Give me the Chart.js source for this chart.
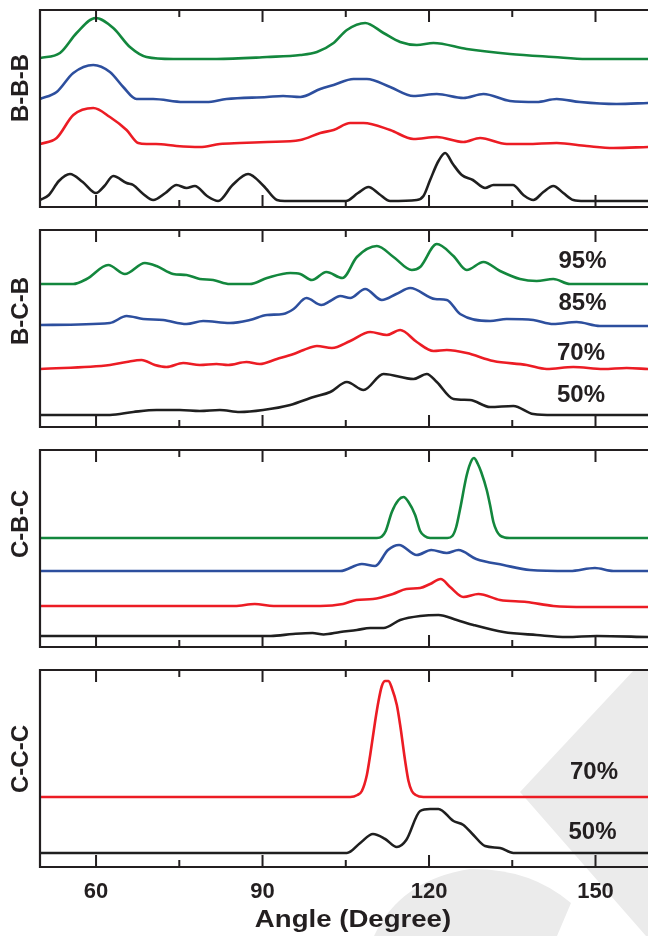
<!DOCTYPE html>
<html>
<head>
<meta charset="utf-8">
<script src="https://cdn.jsdelivr.net/npm/chart.js@4.4.0/dist/chart.umd.min.js"></script>
<style>
html,body{margin:0;padding:0;background:#fff;}
#wrap{position:relative;width:648px;height:936px;overflow:hidden;background:#fff;}
canvas{position:absolute;left:0;}
</style>
</head>
<body>
<div id="wrap">
<canvas id="c1" width="648" height="217" style="top:0px"></canvas>
<canvas id="c2" width="648" height="217" style="top:220px"></canvas>
<canvas id="c3" width="648" height="217" style="top:440px"></canvas>
<canvas id="c4" width="648" height="276" style="top:660px"></canvas>
</div>
<script>
// ---------------- DATA ----------------
const xMajorTicks = [60, 90, 120, 150];
const xMinorTicks = [75, 105, 135];
const xTitle = 'Angle (Degree)';
const panelNames = ['B-B-B', 'B-C-B', 'C-B-C', 'C-C-C'];
const pctLabelsBCB = ['95%', '85%', '70%', '50%'];
const pctLabelsCCC = ['70%', '50%'];

// B-B-B panel: [angle, intensity(offset included)]
const bbb50 = [[49.9,7],[51.5,12],[53.3,26],[55.3,33],[57.6,25],[60,14],[61.5,21],[63.1,31],[65.5,24],[66.7,22],[68.5,13],[70.3,7],[72.5,14],[74.5,22],[76.3,19],[77.8,21],[80,11],[82,6],[84.6,22],[87.4,33],[90.2,21],[92.6,7],[94,6],[105,6],[107.2,14],[109.1,20],[111,13],[113,6],[117.8,7],[119,11],[120.2,27],[121.7,46],[122.9,54],[124.3,43],[125.9,32],[127.9,27],[130.1,19],[131.6,22],[133.4,22],[135.1,22],[137,12],[138.8,7],[140.6,15],[142.4,21],[144.2,14],[146,7],[148,6],[159.5,6]];
const bbb70 = [[49.9,63],[52.9,69],[55.9,92],[59.5,99],[62.5,90],[65.5,77],[67.6,64],[69.1,63],[70.8,63],[74.5,61],[78.7,60],[82.3,63],[85.9,64],[90.8,65],[96.8,67],[100.4,74],[102.8,77],[105.8,84],[108.2,84],[113,77],[117.2,68],[121.4,70],[126.2,65],[129.2,69],[134,63],[137.6,63],[143,64],[148.4,61],[153.2,59],[159.5,60]];
const bbb85 = [[49.9,108],[52.9,115],[55.9,134],[59.5,142],[62.5,135],[64.9,120],[67.3,108],[70.3,108],[75.7,105],[79.9,105],[83.5,108],[90.8,110],[93.7,111],[96.8,110],[100.4,118],[102.8,122],[106.4,128],[108.8,128],[113,120],[117.2,111],[121.4,113],[126.2,109],[129.8,113],[134.6,106],[139.4,105],[143,108],[147.2,105],[153.8,103],[159.5,104]];
const bbb95 = [[49.9,149],[53.5,154],[56.5,174],[59.9,189],[63.1,179],[66.1,160],[69.1,150],[73.9,148],[81.7,148],[90.8,150],[96.8,152],[99.8,155],[102.8,164],[105.2,177],[108.5,184],[111.8,174],[114.8,165],[117.8,162],[120.8,164],[126.8,158],[134.6,153],[142.4,150],[148.4,148],[154.4,148],[159.5,148]];

// B-C-B panel
const bcb50 = [[49.9,12],[62.5,12],[66.7,15],[70.9,17],[75.1,17],[78.7,16],[82.3,17],[85.9,15],[90.1,17],[95,22],[99.2,30],[102.2,35],[105.2,45],[108.2,37],[111.8,53],[117.2,48],[119.6,53],[121.4,45],[124.4,28],[127.4,27],[131,20],[135.2,21],[138.8,13],[142.4,12],[159.5,12]];
const bcb70 = [[49.9,58],[62.5,62],[65.5,65],[68.2,67],[70.6,62],[72.7,60],[75.7,64],[78.7,62],[81.7,63],[83.8,62],[87.1,65],[89.5,63],[92.6,68],[95.6,73],[97.4,77],[99.8,81],[102.5,79],[105.8,86],[109.4,95],[112.4,92],[114.8,97],[117.8,85],[120.8,76],[123.2,77],[126.8,74],[131.6,66],[137.6,62],[141.2,58],[146,60],[151.4,58],[155.6,59],[159.5,58]];
const bcb85 = [[49.9,102],[62.5,104],[65.5,111],[68.5,108],[72.1,107],[76.3,103],[79.3,106],[84.1,104],[87.7,107],[90.8,112],[93.7,113],[95.6,118],[97.9,129],[100.6,122],[102.2,126],[104,131],[105.8,129],[108.5,138],[111.5,127],[114.1,133],[116.6,139],[121.1,128],[123.2,127],[125.6,113],[131,106],[134,108],[138.8,107],[142.4,103],[146.6,105],[150.8,101],[159.5,101]];
const bcb95 = [[49.9,143],[55.9,143],[58.3,148],[62.2,162],[65.2,153],[68.8,164],[70.9,161],[73.9,153],[76.3,152],[78.7,148],[81.1,147],[84.1,143],[87.7,143],[90.8,149],[95,154],[96.8,153],[98.9,147],[101.5,155],[104.4,149],[107,170],[110.6,181],[113.6,170],[116.9,157],[118.4,160],[121.4,183],[124.4,171],[126.8,157],[129.8,165],[132.8,156],[136.4,148],[139.4,146],[142.4,148],[145.4,143],[159.5,143]];

// C-B-C panel
const cbc50 = [[49.9,11],[87,11],[91.5,11],[95.5,13],[99,14],[101,12.5],[104,15],[107,17],[109.4,19],[111.8,19],[114.8,27],[118.4,31],[121.7,32],[125,27],[128,22],[133.4,15],[139.4,12],[144.8,10],[150.2,11],[159.5,10]];
const cbc70 = [[49.9,41],[85,41],[88.6,43],[92,41],[100.4,41],[104.5,43],[106.9,47],[109.9,48],[113.5,53],[115.9,58],[118.4,59],[120.2,63],[122.1,68],[123.8,60],[126.2,50],[128.9,53],[132.8,47],[137.6,45],[142.4,41],[148.4,40],[159.5,40]];
const cbc85 = [[49.9,76],[104,76],[107.9,83],[110.3,81],[112.6,97],[114.6,102],[117.8,92],[120.4,97],[123.2,94],[125.3,97],[128.5,88],[133.4,82],[138.2,77],[145.4,76],[149.9,79],[153.2,76],[159.5,76]];
const cbc95 = [[49.9,109],[110.6,109],[111.5,110.5],[112.2,116],[113.3,135],[114.5,147],[115.4,150],[116.3,145],[117.5,132],[118.4,116],[119.2,111],[120.2,109],[123.3,109],[124.2,111],[124.9,120],[125.6,138],[126.8,172],[127.7,187],[128.1,189],[128.8,183],[129.4,175],[130.4,157],[131,142],[131.6,125],[132.2,116],[132.8,111.5],[133.6,109.5],[134.5,109],[159.5,109]];

// C-C-C panel
const ccc50 = [[49.9,14],[105.2,14],[107.6,24],[109.9,33],[112.1,28],[114.2,20],[115.9,27],[118.4,56],[120.2,58],[121.7,58],[124.4,46],[126.2,42],[128,32],[130.1,21],[132.8,19],[135.2,14],[159.5,14]];
const ccc70 = [[49.9,70],[105.8,70],[107.1,72],[107.9,76],[108.8,92],[109.4,112],[110.3,146],[110.9,166],[111.5,181],[112.1,186],[112.7,186],[113.3,179],[114.2,162],[114.8,142],[115.7,106],[116.3,86],[116.9,76],[117.6,72],[119,70],[159.5,70]];

// ---------------- STYLE ----------------
const X_MIN = 49.9, X_MAX = 159.46;
const FONT = "'Liberation Sans', Arial, Helvetica, sans-serif";
const INK = '#231f20';
const C_BLACK = '#1f1f1f', C_RED = '#ec1c24', C_BLUE = '#2d4f9e', C_GREEN = '#13873d';

function ds(arr, color) {
  return {
    data: arr.map(([x, y]) => ({x, y})),
    borderColor: color, borderWidth: 2.6, pointRadius: 0, fill: false,
    cubicInterpolationMode: 'monotone', borderCapStyle: 'round', borderJoinStyle: 'round'
  };
}

const framePlugin = {
  id: 'frame',
  beforeDraw(chart, args, o) {
    if (!o.watermark) return;
    const ctx = chart.ctx;
    ctx.save();
    ctx.fillStyle = '#ebebeb';
    ctx.beginPath();
    ctx.moveTo(520, 132); ctx.lineTo(634, 10); ctx.lineTo(648, 10); ctx.lineTo(648, 276); ctx.lineTo(646, 276);
    ctx.closePath(); ctx.fill();
    ctx.beginPath();
    ctx.moveTo(374, 276);
    ctx.quadraticCurveTo(400, 220, 470, 209);
    ctx.quadraticCurveTo(530, 208, 571, 243);
    ctx.lineTo(557, 276);
    ctx.closePath(); ctx.fill();
    ctx.restore();
  },
  afterDatasetsDraw(chart, args, o) {
    const {ctx, chartArea: a} = chart;
    const x = chart.scales.x;
    ctx.save();
    ctx.strokeStyle = INK;
    ctx.lineCap = 'butt';
    ctx.lineWidth = 2.2;
    ctx.beginPath();
    ctx.moveTo(a.right, a.top); ctx.lineTo(a.left, a.top); ctx.lineTo(a.left, a.bottom); ctx.lineTo(a.right, a.bottom);
    ctx.stroke();
    ctx.lineWidth = 2;
    ctx.beginPath();
    xMajorTicks.forEach(v => {
      const px = x.getPixelForValue(v);
      ctx.moveTo(px, a.top); ctx.lineTo(px, a.top + 12);
      ctx.moveTo(px, a.bottom); ctx.lineTo(px, a.bottom - 12);
    });
    xMinorTicks.forEach(v => {
      const px = x.getPixelForValue(v);
      ctx.moveTo(px, a.top); ctx.lineTo(px, a.top + 7);
      ctx.moveTo(px, a.bottom); ctx.lineTo(px, a.bottom - 7);
    });
    ctx.stroke();
    // panel name
    ctx.fillStyle = INK;
    ctx.font = 'bold 24px ' + FONT;
    ctx.textAlign = 'center'; ctx.textBaseline = 'middle';
    ctx.save();
    ctx.translate(21.5, o.nameY);
    ctx.rotate(-Math.PI / 2);
    ctx.fillText(o.name, 0, 0);
    ctx.restore();
    // percent labels
    (o.pcts || []).forEach(p => { ctx.fillText(p.t, p.x, p.y); });
    // axis title
    if (o.title) {
      ctx.save();
      ctx.translate(o.title.x, o.title.y);
      ctx.scale(1.15, 1);
      ctx.fillText(o.title.t, 0, 0);
      ctx.restore();
    }
    ctx.restore();
  }
};

function makeChart(id, series, isBottom, frameOpts) {
  const xScale = {
    type: 'linear', min: X_MIN, max: X_MAX, display: isBottom,
    grid: { display: false, drawTicks: false }, border: { display: false },
    afterBuildTicks: s => { s.ticks = xMajorTicks.map(v => ({ value: v })); },
    ticks: { font: { family: FONT, size: 22, weight: 'bold' }, color: INK, padding: 12, autoSkip: false, maxRotation: 0 }
  };
  if (isBottom) xScale.afterFit = s => { s.height = 69; };
  return new Chart(document.getElementById(id), {
    type: 'line',
    data: { datasets: series },
    options: {
      responsive: false, animation: false, events: [],
      layout: { padding: { left: 40, right: 0, top: 10, bottom: isBottom ? 0 : 10 } },
      plugins: { legend: { display: false }, tooltip: { enabled: false }, frame: frameOpts },
      scales: {
        x: xScale,
        y: { display: false, min: 0, max: 197 }
      }
    },
    plugins: [framePlugin]
  });
}

makeChart('c1', [ds(bbb50, C_BLACK), ds(bbb70, C_RED), ds(bbb85, C_BLUE), ds(bbb95, C_GREEN)], false,
  { name: panelNames[0], nameY: 88 });
makeChart('c2', [ds(bcb50, C_BLACK), ds(bcb70, C_RED), ds(bcb85, C_BLUE), ds(bcb95, C_GREEN)], false,
  { name: panelNames[1], nameY: 91, pcts: [
    { t: pctLabelsBCB[0], x: 582.5, y: 41 }, { t: pctLabelsBCB[1], x: 582.5, y: 83.5 },
    { t: pctLabelsBCB[2], x: 581, y: 133 }, { t: pctLabelsBCB[3], x: 581, y: 175 } ] });
makeChart('c3', [ds(cbc50, C_BLACK), ds(cbc70, C_RED), ds(cbc85, C_BLUE), ds(cbc95, C_GREEN)], false,
  { name: panelNames[2], nameY: 84 });
makeChart('c4', [ds(ccc50, C_BLACK), ds(ccc70, C_RED)], true,
  { name: panelNames[3], nameY: 99, watermark: true,
    pcts: [ { t: pctLabelsCCC[0], x: 594, y: 112.5 }, { t: pctLabelsCCC[1], x: 592.5, y: 172.5 } ],
    title: { t: xTitle, x: 353, y: 260.5 } });
</script>
</body>
</html>
